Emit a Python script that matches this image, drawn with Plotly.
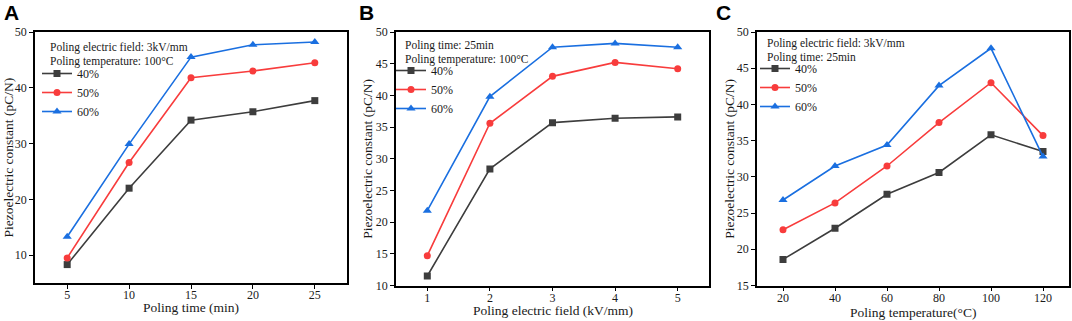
import plotly.graph_objects as go

series_names = ["40%", "50%", "60%"]

time_x = [5, 10, 15, 20, 25]
time_40 = [8.3, 22.0, 34.2, 35.7, 37.7]
time_50 = [9.5, 26.6, 41.8, 43.0, 44.5]
time_60 = [13.3, 29.9, 45.5, 47.7, 48.2]

field_x = [1, 2, 3, 4, 5]
field_40 = [11.5, 28.4, 35.7, 36.4, 36.6]
field_50 = [14.7, 35.6, 43.0, 45.2, 44.2]
field_60 = [21.8, 39.8, 47.6, 48.2, 47.6]

temp_x = [20, 40, 60, 80, 100, 120]
temp_40 = [18.6, 22.9, 27.6, 30.6, 35.8, 33.5]
temp_50 = [22.7, 26.4, 31.5, 37.5, 43.0, 35.7]
temp_60 = [26.8, 31.5, 34.4, 42.6, 47.75, 32.8]

colors = ["#3d3d3d", "#f83c3c", "#1a6fe0"]
symbols = ["square", "circle", "triangle-up"]

W, H = 1072, 321
FONT = "Liberation Serif"
TXT = "#1a1a1a"

fig = go.Figure()

panels = [
    dict(x=time_x, ys=[time_40, time_50, time_60], xr=[2.4, 27.6], yr=[5, 50], xt=[5, 10, 15, 20, 25],
         yt=[10, 20, 30, 40, 50], px=(35, 347), py=(32, 283), xtitle="Poling time (min)",
         cond=["Poling electric field: 3kV/mm", "Poling temperature: 100°C"], cy=(47, 61), cx=48,
         legx=37, legy=59, xty=307, yty=8, letter="A", lx=3),
    dict(x=field_x, ys=[field_40, field_50, field_60], xr=[0.5, 5.5], yr=[10, 50], xt=[1, 2, 3, 4, 5],
         yt=[10, 15, 20, 25, 30, 35, 40, 45, 50], px=(396, 709), py=(32, 285.5),
         xtitle="Poling electric field (kV/mm)",
         cond=["Poling time: 25min", "Poling temperature: 100°C"], cy=(45, 59), cx=403,
         legx=391, legy=56, xty=310, yty=368, letter="B", lx=358),
    dict(x=temp_x, ys=[temp_40, temp_50, temp_60], xr=[10, 130], yr=[15, 50], xt=[20, 40, 60, 80, 100, 120],
         yt=[15, 20, 25, 30, 35, 40, 45, 50], px=(757, 1069), py=(32, 285.5), xtitle="Poling temperature(°C)",
         cond=["Poling electric field: 3kV/mm", "Poling time: 25min"], cy=(43, 57), cx=765,
         legx=755, legy=54, xty=312, yty=730, letter="C", lx=715),
]

layout = dict(
    width=W, height=H, margin=dict(l=0, r=0, t=0, b=0),
    paper_bgcolor="white", plot_bgcolor="white",
    font=dict(family=FONT, size=12, color=TXT),
    showlegend=True,
)
annotations = []

for i, p in enumerate(panels):
    n = "" if i == 0 else str(i + 1)
    legname = "legend" if i == 0 else "legend" + str(i + 1)
    for j in range(3):
        fig.add_trace(go.Scatter(
            x=p["x"], y=p["ys"][j], mode="lines+markers", name=series_names[j],
            line=dict(color=colors[j], width=1.6),
            marker=dict(symbol=symbols[j], size=7 if j != 2 else 8, color=colors[j]),
            xaxis="x" + n, yaxis="y" + n, legend=legname,
        ))
    x0, x1 = p["px"]
    y0, y1 = p["py"]
    axstyle = dict(showgrid=False, zeroline=False, showline=True, linecolor="black", linewidth=1.5,
                   mirror=True, ticks="outside", ticklen=4, tickwidth=1.2, tickcolor="black",
                   tickfont=dict(family=FONT, size=12, color=TXT), automargin=False)
    layout["xaxis" + n] = dict(domain=[x0 / W, x1 / W], range=p["xr"], tickvals=p["xt"],
                               anchor="y" + n, ticklabelstandoff=-4, **axstyle)
    layout["yaxis" + n] = dict(domain=[1 - y1 / H, 1 - y0 / H], range=p["yr"], tickvals=p["yt"],
                               anchor="x" + n, **axstyle)
    layout[legname] = dict(
        x=p["legx"] / W, y=1 - p["legy"] / H, xanchor="left", yanchor="top",
        bgcolor="rgba(0,0,0,0)", borderwidth=0,
        font=dict(family=FONT, size=12, color=TXT),
        tracegroupgap=0, itemwidth=30,
    )
    for k, line in enumerate(p["cond"]):
        annotations.append(dict(text=line, x=p["cx"] / W, y=1 - p["cy"][k] / H, xref="paper", yref="paper",
                                xanchor="left", yanchor="middle", showarrow=False,
                                font=dict(family=FONT, size=11.5, color=TXT)))
    annotations.append(dict(text=p["xtitle"], x=(x0 + x1) / 2 / W, y=1 - p["xty"] / H, xref="paper", yref="paper",
                            xanchor="center", yanchor="middle", showarrow=False,
                            font=dict(family=FONT, size=13.5, color=TXT)))
    annotations.append(dict(text="Piezoelectric constant (pC/N)", x=p["yty"] / W, y=1 - (y0 + y1) / 2 / H,
                            xref="paper", yref="paper", xanchor="center", yanchor="middle", textangle=-90,
                            showarrow=False, font=dict(family=FONT, size=13.5, color=TXT)))
    annotations.append(dict(text="<b>" + p["letter"] + "</b>", x=p["lx"] / W, y=1.0,
                            xref="paper", yref="paper", xanchor="left", yanchor="top", borderpad=0,
                            showarrow=False, font=dict(family="Liberation Sans", size=21, color="black")))

layout["annotations"] = annotations
fig.update_layout(**layout)
fig.write_html("out.html", config={"displayModeBar": False},
               post_script="document.body.style.margin='0';")
